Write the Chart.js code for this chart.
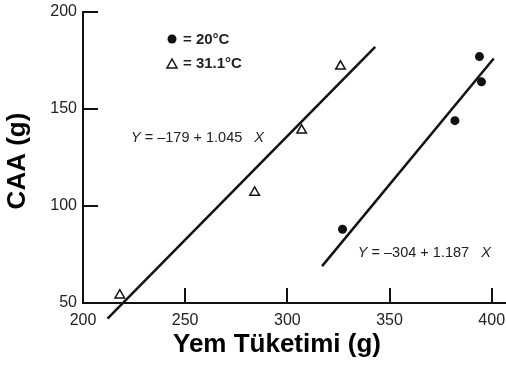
<!DOCTYPE html>
<html>
<head>
<meta charset="utf-8">
<script src="https://cdn.jsdelivr.net/npm/chart.js@4"></script>
<style>
  html, body { margin: 0; padding: 0; background: #fff; }
  #wrap { width: 506px; height: 365px; }
</style>
</head>
<body>
<div id="wrap"><canvas id="chart"></canvas></div>
<script>
// Veriler
const X_TICKS = [200, 250, 300, 350, 400];
const Y_TICKS = [50, 100, 150, 200];

const T20_X = [327, 382, 395, 394];
const T20_Y = [88, 144, 164, 177];
const T31_X = [218, 284, 307, 326];
const T31_Y = [54, 107, 139, 172];

const FIT31_X = [212, 343];
const FIT31_Y = [42, 182];
const FIT20_X = [317, 401];
const FIT20_Y = [69, 176];

const LEGEND_LABELS = ["= 20°C", "= 31.1°C"];
const EQ_LABELS = ["= –179 + 1.045", "= –304 + 1.187"];
const X_TITLE = "Yem Tüketimi (g)";
const Y_TITLE = "CAA (g)";

const FONT = "'Liberation Sans', Arial, sans-serif";
const INK = "#111";

const toPoints = (xs, ys) => xs.map((x, i) => ({ x, y: ys[i] }));

// Eksen içi tik çizgileri, başlıklar, lejant ve denklemler
const extras = {
  id: "extras",
  afterDraw(chart) {
    const { ctx, chartArea: area, scales: { x, y } } = chart;
    ctx.save();
    ctx.strokeStyle = INK;
    ctx.lineWidth = 2;
    X_TICKS.forEach(v => {
      const px = Math.round(x.getPixelForValue(v));
      ctx.beginPath();
      ctx.moveTo(px, area.bottom);
      ctx.lineTo(px, area.bottom - 15);
      ctx.stroke();
    });
    Y_TICKS.forEach(v => {
      const py = Math.round(y.getPixelForValue(v));
      ctx.beginPath();
      ctx.moveTo(area.left, py);
      ctx.lineTo(area.left + 15, py);
      ctx.stroke();
    });

    // eksen başlıkları
    ctx.fillStyle = "#000";
    ctx.font = `bold 26px ${FONT}`;
    ctx.textAlign = "center";
    ctx.textBaseline = "middle";
    ctx.fillText(X_TITLE, 277, 345);
    ctx.translate(18, 161);
    ctx.rotate(-Math.PI / 2);
    ctx.fillText(Y_TITLE, 0, 0);
    ctx.setTransform(1, 0, 0, 1, 0, 0);

    // lejant
    const lx = area.left + 89, ly = area.top + 27;
    ctx.fillStyle = INK;
    ctx.beginPath();
    ctx.arc(lx, ly, 4.5, 0, Math.PI * 2);
    ctx.fill();
    ctx.lineWidth = 1.5;
    ctx.beginPath();
    ctx.moveTo(lx, ly + 20);
    ctx.lineTo(lx + 5, ly + 29);
    ctx.lineTo(lx - 5, ly + 29);
    ctx.closePath();
    ctx.stroke();
    ctx.font = `bold 15px ${FONT}`;
    ctx.textAlign = "left";
    ctx.fillStyle = "#222";
    ctx.fillText(LEGEND_LABELS[0], lx + 11, ly + 1);
    ctx.fillText(LEGEND_LABELS[1], lx + 11, ly + 25);

    // denklemler
    const drawEq = (label, px, py) => {
      ctx.font = `italic 14.5px ${FONT}`;
      ctx.fillText("Y", px, py);
      let cx = px + ctx.measureText("Y ").width;
      ctx.font = `14.5px ${FONT}`;
      ctx.fillText(label, cx, py);
      cx += ctx.measureText(label + "   ").width;
      ctx.font = `italic 14.5px ${FONT}`;
      ctx.fillText("X", cx, py);
    };
    drawEq(EQ_LABELS[0], x.getPixelForValue(223.5), y.getPixelForValue(135));
    drawEq(EQ_LABELS[1], x.getPixelForValue(334.5), y.getPixelForValue(76));
    ctx.restore();
  }
};

const axisCommon = {
  grid: { drawOnChartArea: false, drawTicks: false },
  border: { display: true, color: INK, width: 2 },
  ticks: { color: "#222", font: { family: FONT, size: 16 } }
};

new Chart(document.getElementById("chart"), {
  type: "scatter",
  data: {
    datasets: [
      {
        label: "20°C",
        data: toPoints(T20_X, T20_Y),
        pointStyle: "circle",
        pointRadius: 4.5,
        backgroundColor: INK,
        borderColor: INK,
        borderWidth: 0
      },
      {
        label: "31.1°C",
        data: toPoints(T31_X, T31_Y),
        pointStyle: "triangle",
        pointRadius: 5.5,
        backgroundColor: "#fff",
        borderColor: INK,
        borderWidth: 1.5
      },
      {
        label: "fit 31.1",
        data: toPoints(FIT31_X, FIT31_Y),
        showLine: true,
        pointRadius: 0,
        borderColor: INK,
        borderWidth: 2.5,
        clip: false
      },
      {
        label: "fit 20",
        data: toPoints(FIT20_X, FIT20_Y),
        showLine: true,
        pointRadius: 0,
        borderColor: INK,
        borderWidth: 2.5,
        clip: false
      }
    ]
  },
  options: {
    responsive: true,
    maintainAspectRatio: false,
    animation: false,
    layout: { autoPadding: false, padding: { top: 12, right: 0, left: 0, bottom: 0 } },
    plugins: {
      legend: { display: false },
      tooltip: { enabled: false }
    },
    scales: {
      x: {
        ...axisCommon,
        type: "linear",
        min: 200,
        max: 407,
        ticks: { ...axisCommon.ticks, padding: 8 },
        afterBuildTicks: s => { s.ticks = X_TICKS.map(value => ({ value })); },
        afterFit: s => { s.height = 62; s.paddingLeft = 0; s.paddingRight = 0; }
      },
      y: {
        ...axisCommon,
        min: 50,
        max: 200,
        ticks: { ...axisCommon.ticks, padding: 6 },
        afterBuildTicks: s => { s.ticks = Y_TICKS.map(value => ({ value })); },
        afterFit: s => { s.width = 83; s.paddingTop = 0; s.paddingBottom = 0; }
      }
    }
  },
  plugins: [extras]
});
</script>
</body>
</html>
